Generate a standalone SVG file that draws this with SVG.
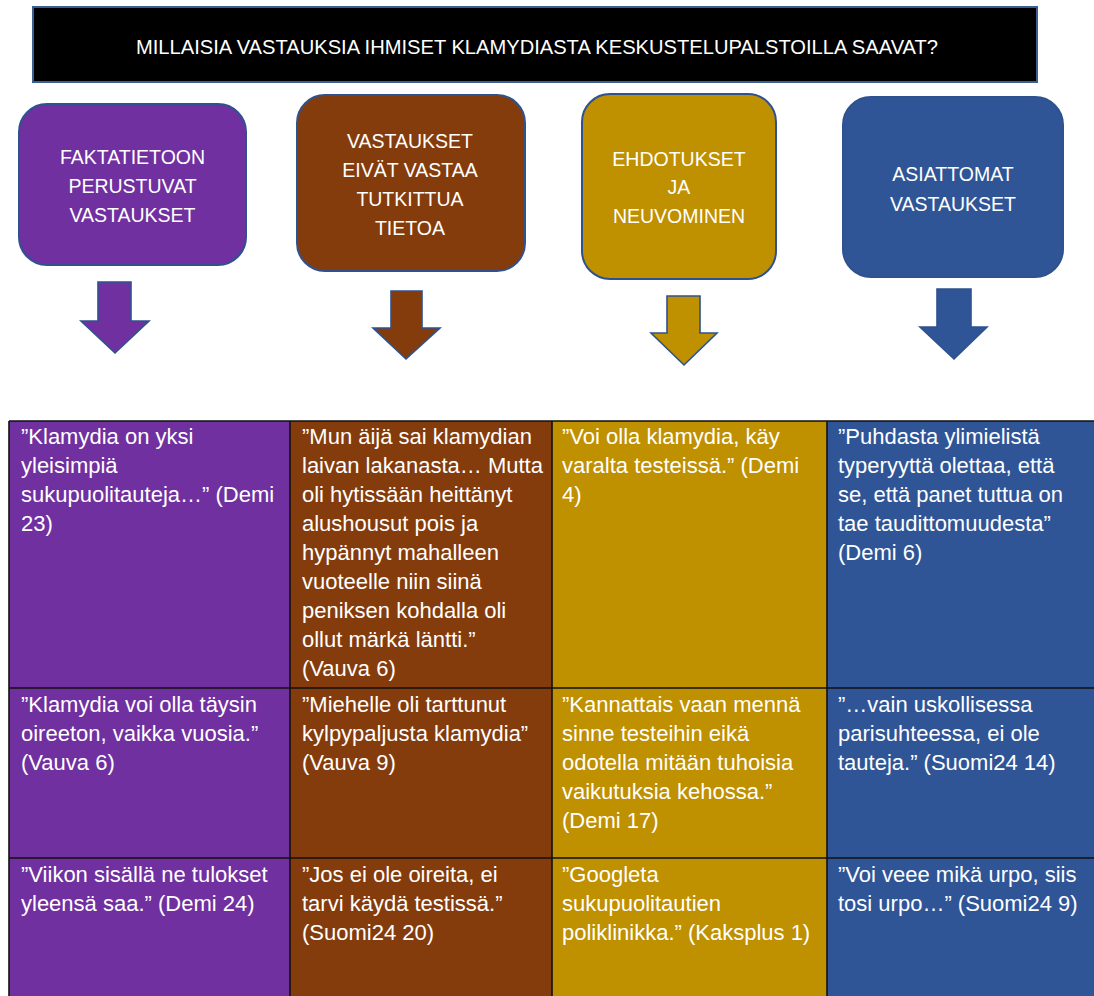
<svg xmlns="http://www.w3.org/2000/svg" width="1094" height="996" viewBox="0 0 1094 996">
<style>
.hdr{font-family:"Liberation Sans",Arial,sans-serif;font-size:19.5px;fill:#fff;text-anchor:middle}
.cell{font-family:"Liberation Sans",Arial,sans-serif;font-size:22px;fill:#fff}
.box{stroke:#2F528F;stroke-width:2}
.arr{stroke:#2F528F;stroke-width:1.6;stroke-linejoin:miter}
.grid{stroke:#111;stroke-width:1.6;fill:none}
.p{fill:#7030A0}.b{fill:#843C0C}.g{fill:#BF9000}.u{fill:#2F5597}
</style>
<rect width="1094" height="996" fill="#fff"/>
<g id="title">
<rect x="33" y="7" width="1004" height="75" fill="#000" stroke="#3B5E93" stroke-width="2"/>
<text x="537" y="54" font-family="Liberation Sans,Arial,sans-serif" font-size="19.5" fill="#fff" text-anchor="middle" textLength="802" lengthAdjust="spacingAndGlyphs">MILLAISIA VASTAUKSIA IHMISET KLAMYDIASTA KESKUSTELUPALSTOILLA SAAVAT?</text>
</g>
<g id="node-fakta">
<rect class="box p" x="19" y="104" width="227" height="161" rx="28"/>
<text class="hdr" x="132.5" y="164">FAKTATIETOON</text>
<text class="hdr" x="132.5" y="193">PERUSTUVAT</text>
<text class="hdr" x="132.5" y="222">VASTAUKSET</text>
</g>
<g id="node-eivat">
<rect class="box b" x="297" y="95" width="228" height="176" rx="28"/>
<text class="hdr" x="410" y="148">VASTAUKSET</text>
<text class="hdr" x="410" y="177">EIVÄT VASTAA</text>
<text class="hdr" x="410" y="206">TUTKITTUA</text>
<text class="hdr" x="410" y="235">TIETOA</text>
</g>
<g id="node-ehdotukset">
<rect class="box g" x="582" y="94" width="194" height="185" rx="28"/>
<text class="hdr" x="679" y="166">EHDOTUKSET</text>
<text class="hdr" x="679" y="194">JA</text>
<text class="hdr" x="679" y="223">NEUVOMINEN</text>
</g>
<g id="node-asiattomat">
<rect class="box u" x="843" y="97" width="220" height="180" rx="28"/>
<text class="hdr" x="953" y="181">ASIATTOMAT</text>
<text class="hdr" x="953" y="211">VASTAUKSET</text>
</g>
<g id="connectors">
<polygon class="arr p" points="98,282 131,282 131,321 149,321 115,353 81,321 98,321"/>
<polygon class="arr b" points="391,291 422,291 422,328 440,328 406,359 373,328 391,328"/>
<polygon class="arr g" points="667,296 700,296 700,333 717,333 684,365 651,333 667,333"/>
<polygon class="arr u" points="937,289 971,289 971,327 987,327 954,359 920,327 937,327"/>
</g>
<g id="table">
<rect class="p" x="9" y="421" width="281" height="575"/>
<rect class="b" x="290" y="421" width="262" height="575"/>
<rect class="g" x="552" y="421" width="275" height="575"/>
<rect class="u" x="827" y="421" width="267" height="575"/>
<path class="grid" d="M9,421H1094M9,688H1094M9,858H1094M9,421V996M290,421V996M552,421V996M827,421V996"/>
</g>
<g id="cell-r1-c1">
<text class="cell" x="21" y="444">”Klamydia on yksi</text>
<text class="cell" x="21" y="473">yleisimpiä</text>
<text class="cell" x="21" y="502">sukupuolitauteja…” (Demi</text>
<text class="cell" x="21" y="531">23)</text>
</g>
<g id="cell-r1-c2">
<text class="cell" x="302" y="444">”Mun äijä sai klamydian</text>
<text class="cell" x="302" y="473">laivan lakanasta… Mutta</text>
<text class="cell" x="302" y="502">oli hytissään heittänyt</text>
<text class="cell" x="302" y="531">alushousut pois ja</text>
<text class="cell" x="302" y="560">hypännyt mahalleen</text>
<text class="cell" x="302" y="589">vuoteelle niin siinä</text>
<text class="cell" x="302" y="618">peniksen kohdalla oli</text>
<text class="cell" x="302" y="647">ollut märkä läntti.”</text>
<text class="cell" x="302" y="676">(Vauva 6)</text>
</g>
<g id="cell-r1-c3">
<text class="cell" x="562" y="444">”Voi olla klamydia, käy</text>
<text class="cell" x="562" y="473">varalta testeissä.” (Demi</text>
<text class="cell" x="562" y="502">4)</text>
</g>
<g id="cell-r1-c4">
<text class="cell" x="838" y="444">”Puhdasta ylimielistä</text>
<text class="cell" x="838" y="473">typeryyttä olettaa, että</text>
<text class="cell" x="838" y="502">se, että panet tuttua on</text>
<text class="cell" x="838" y="531">tae taudittomuudesta”</text>
<text class="cell" x="838" y="560">(Demi 6)</text>
</g>
<g id="cell-r2-c1">
<text class="cell" x="21" y="712">”Klamydia voi olla täysin</text>
<text class="cell" x="21" y="741">oireeton, vaikka vuosia.”</text>
<text class="cell" x="21" y="770">(Vauva 6)</text>
</g>
<g id="cell-r2-c2">
<text class="cell" x="302" y="712">”Miehelle oli tarttunut</text>
<text class="cell" x="302" y="741">kylpypaljusta klamydia”</text>
<text class="cell" x="302" y="770">(Vauva 9)</text>
</g>
<g id="cell-r2-c3">
<text class="cell" x="562" y="712">”Kannattais vaan mennä</text>
<text class="cell" x="562" y="741">sinne testeihin eikä</text>
<text class="cell" x="562" y="770">odotella mitään tuhoisia</text>
<text class="cell" x="562" y="799">vaikutuksia kehossa.”</text>
<text class="cell" x="562" y="828">(Demi 17)</text>
</g>
<g id="cell-r2-c4">
<text class="cell" x="838" y="712">”…vain uskollisessa</text>
<text class="cell" x="838" y="741">parisuhteessa, ei ole</text>
<text class="cell" x="838" y="770">tauteja.” (Suomi24 14)</text>
</g>
<g id="cell-r3-c1">
<text class="cell" x="21" y="882">”Viikon sisällä ne tulokset</text>
<text class="cell" x="21" y="911">yleensä saa.” (Demi 24)</text>
</g>
<g id="cell-r3-c2">
<text class="cell" x="302" y="882">”Jos ei ole oireita, ei</text>
<text class="cell" x="302" y="911">tarvi käydä testissä.”</text>
<text class="cell" x="302" y="940">(Suomi24 20)</text>
</g>
<g id="cell-r3-c3">
<text class="cell" x="562" y="882">”Googleta</text>
<text class="cell" x="562" y="911">sukupuolitautien</text>
<text class="cell" x="562" y="940">poliklinikka.” (Kaksplus 1)</text>
</g>
<g id="cell-r3-c4">
<text class="cell" x="838" y="882">”Voi veee mikä urpo, siis</text>
<text class="cell" x="838" y="911">tosi urpo…” (Suomi24 9)</text>
</g>
</svg>
